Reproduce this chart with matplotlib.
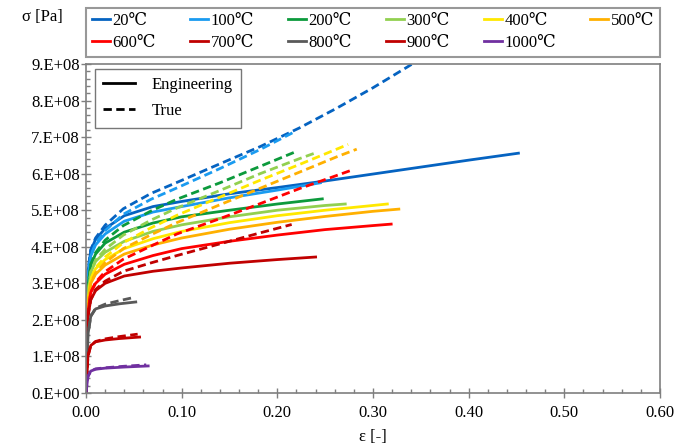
import matplotlib
matplotlib.use("Agg")
import matplotlib.pyplot as plt
from matplotlib.lines import Line2D
from matplotlib.ticker import MultipleLocator, FuncFormatter

plt.rcParams['font.family'] = ['Liberation Serif', 'DejaVu Serif']
plt.rcParams['font.size'] = 12

# temperatures and colours
temps = ['20℃', '100℃', '200℃', '300℃', '400℃', '500℃',
         '600℃', '700℃', '800℃', '900℃', '1000℃']
colors = ['#0563c1', '#1a9bf0', '#0c9a3c', '#92d050', '#ffe800', '#ffb000',
          '#ff0000', '#c00000', '#595959', '#c00000', '#7030a0']

# engineering curves (strain [-], stress [1e8 Pa])
eng_eps = [
    [0, 0.002, 0.005, 0.01, 0.02, 0.04, 0.07, 0.1, 0.15, 0.2, 0.25, 0.3, 0.35, 0.4, 0.452],
    [0, 0.002, 0.005, 0.01, 0.02, 0.04, 0.07, 0.1, 0.15, 0.2, 0.245],
    [0, 0.002, 0.005, 0.01, 0.02, 0.04, 0.07, 0.1, 0.15, 0.2, 0.247],
    [0, 0.002, 0.005, 0.01, 0.02, 0.04, 0.07, 0.1, 0.15, 0.2, 0.25, 0.271],
    [0, 0.002, 0.005, 0.01, 0.02, 0.04, 0.07, 0.1, 0.15, 0.2, 0.25, 0.3, 0.315],
    [0, 0.002, 0.005, 0.01, 0.02, 0.04, 0.07, 0.1, 0.15, 0.2, 0.25, 0.3, 0.327],
    [0, 0.002, 0.005, 0.01, 0.02, 0.04, 0.07, 0.1, 0.15, 0.2, 0.25, 0.3, 0.319],
    [0, 0.002, 0.005, 0.01, 0.02, 0.04, 0.07, 0.1, 0.15, 0.2, 0.24],
    [0, 0.002, 0.005, 0.01, 0.02, 0.035, 0.052],
    [0, 0.002, 0.005, 0.01, 0.02, 0.035, 0.056],
    [0, 0.002, 0.005, 0.01, 0.02, 0.04, 0.065],
]
eng_sig = [
    [0, 3.3, 3.9, 4.2, 4.5, 4.85, 5.1, 5.24, 5.45, 5.62, 5.8, 5.99, 6.18, 6.37, 6.56],
    [0, 3.15, 3.75, 4.05, 4.35, 4.7, 4.95, 5.1, 5.34, 5.55, 5.75],
    [0, 2.9, 3.5, 3.8, 4.1, 4.4, 4.65, 4.82, 5.0, 5.17, 5.31],
    [0, 2.7, 3.3, 3.6, 3.85, 4.15, 4.42, 4.6, 4.82, 5.0, 5.13, 5.17],
    [0, 2.5, 3.1, 3.4, 3.65, 3.95, 4.22, 4.42, 4.66, 4.85, 5.0, 5.13, 5.17],
    [0, 2.4, 3.0, 3.25, 3.5, 3.8, 4.05, 4.24, 4.48, 4.67, 4.83, 4.97, 5.03],
    [0, 2.2, 2.75, 3.0, 3.25, 3.52, 3.76, 3.95, 4.15, 4.32, 4.47, 4.58, 4.62],
    [0, 2.1, 2.55, 2.8, 3.0, 3.2, 3.33, 3.42, 3.55, 3.65, 3.72],
    [0, 1.6, 2.1, 2.3, 2.38, 2.44, 2.49],
    [0, 1.0, 1.3, 1.4, 1.45, 1.49, 1.53],
    [0, 0.45, 0.6, 0.65, 0.68, 0.71, 0.74],
]

# true curves (strain [-], stress [1e8 Pa])
true_eps = [
    [0, 0.002, 0.005, 0.01, 0.02, 0.039, 0.068, 0.095, 0.14, 0.182, 0.223, 0.262, 0.3, 0.336, 0.373],
    [0, 0.002, 0.005, 0.01, 0.02, 0.039, 0.068, 0.095, 0.14, 0.182, 0.219],
    [0, 0.002, 0.005, 0.01, 0.02, 0.039, 0.068, 0.095, 0.14, 0.182, 0.221],
    [0, 0.002, 0.005, 0.01, 0.02, 0.039, 0.068, 0.095, 0.14, 0.182, 0.223, 0.24],
    [0, 0.002, 0.005, 0.01, 0.02, 0.039, 0.068, 0.095, 0.14, 0.182, 0.223, 0.262, 0.274],
    [0, 0.002, 0.005, 0.01, 0.02, 0.039, 0.068, 0.095, 0.14, 0.182, 0.223, 0.262, 0.283],
    [0, 0.002, 0.005, 0.01, 0.02, 0.039, 0.068, 0.095, 0.14, 0.182, 0.223, 0.262, 0.277],
    [0, 0.002, 0.005, 0.01, 0.02, 0.039, 0.068, 0.095, 0.14, 0.182, 0.215],
    [0, 0.002, 0.005, 0.01, 0.02, 0.034, 0.051],
    [0, 0.002, 0.005, 0.01, 0.02, 0.034, 0.054],
    [0, 0.002, 0.005, 0.01, 0.02, 0.039, 0.063],
]
true_sig = [
    [0, 3.31, 3.92, 4.24, 4.59, 5.04, 5.46, 5.76, 6.27, 6.74, 7.25, 7.79, 8.35, 8.92, 9.52],
    [0, 3.16, 3.77, 4.09, 4.44, 4.89, 5.3, 5.61, 6.14, 6.66, 7.16],
    [0, 2.91, 3.52, 3.84, 4.18, 4.58, 4.98, 5.3, 5.75, 6.2, 6.62],
    [0, 2.71, 3.32, 3.64, 3.93, 4.32, 4.73, 5.06, 5.54, 6.0, 6.41, 6.57],
    [0, 2.51, 3.12, 3.43, 3.72, 4.11, 4.52, 4.86, 5.36, 5.82, 6.25, 6.67, 6.8],
    [0, 2.4, 3.02, 3.28, 3.57, 3.95, 4.33, 4.66, 5.15, 5.6, 6.04, 6.46, 6.67],
    [0, 2.2, 2.76, 3.03, 3.32, 3.66, 4.02, 4.35, 4.77, 5.18, 5.59, 5.95, 6.09],
    [0, 2.1, 2.56, 2.83, 3.06, 3.33, 3.56, 3.76, 4.08, 4.38, 4.61],
    [0, 1.6, 2.1, 2.32, 2.43, 2.52, 2.62],
    [0, 1.0, 1.3, 1.41, 1.48, 1.54, 1.61],
    [0, 0.45, 0.6, 0.66, 0.69, 0.73, 0.77],
]

fig = plt.figure(figsize=(6.86, 4.47), dpi=100)
ax = fig.add_axes([86 / 686, 1 - 393 / 447, (660 - 86) / 686, (393 - 64) / 447])

handles = []
for i in range(len(temps)):
    c = colors[i]
    ax.plot(true_eps[i], [s * 1e8 for s in true_sig[i]], color=c, lw=2, ls=(0, (3, 1.6)))
    h, = ax.plot(eng_eps[i], [s * 1e8 for s in eng_sig[i]], color=c, lw=2, label=temps[i])
    handles.append(h)

ax.set_xlim(0, 0.6)
ax.set_ylim(0, 9e8)
ax.xaxis.set_major_locator(MultipleLocator(0.1))
ax.xaxis.set_minor_locator(MultipleLocator(0.02))
ax.yaxis.set_major_locator(MultipleLocator(1e8))
ax.yaxis.set_minor_locator(MultipleLocator(0.2e8))
ax.xaxis.set_major_formatter(FuncFormatter(lambda v, p: f"{v:.2f}"))
ax.yaxis.set_major_formatter(FuncFormatter(lambda v, p: "0.E+00" if abs(v) < 1 else f"{v / 1e8:.0f}.E+08"))

for s in ax.spines.values():
    s.set_color('#7f7f7f')
    s.set_linewidth(1.2)
ax.tick_params(which='major', direction='inout', length=7, color='#7f7f7f', width=1, labelsize=12)
ax.tick_params(which='minor', direction='in', length=3, color='#7f7f7f', width=1)
ax.tick_params(axis='x', pad=5)
ax.tick_params(axis='y', pad=1)

ax.set_xlabel('ε [-]', fontsize=12, labelpad=6)
fig.text(42 / 686, 1 - 17 / 447, 'σ [Pa]', ha='center', va='center', fontsize=12)

# temperature legend above the plot, filled row by row
order = [0, 6, 1, 7, 2, 8, 3, 9, 4, 10, 5]
leg_t = fig.legend(handles=[handles[k] for k in order], loc='lower left', ncol=6, mode='expand',
                   bbox_to_anchor=(86 / 686, 1 - 57 / 447, (660 - 86) / 686, 52 / 447),
                   fontsize=12, handlelength=1.1, handletextpad=0.15, columnspacing=0.5,
                   labelspacing=0.35, borderaxespad=0, fancybox=False, frameon=True,
                   borderpad=0.35)
leg_t.get_frame().set_edgecolor('#7f7f7f')
leg_t.get_frame().set_linewidth(1.5)

# line type legend inside
styles = [Line2D([], [], color='black', lw=2, label='Engineering'),
          Line2D([], [], color='black', lw=2, ls=(0, (3, 1.6)), label='True')]
leg_s = ax.legend(handles=styles, loc='upper left', bbox_to_anchor=(0.015, 0.985),
                  fontsize=12, handlelength=1.9, handletextpad=1.0, fancybox=False,
                  borderpad=0.5, labelspacing=0.6, borderaxespad=0)
leg_s.get_frame().set_edgecolor('#555555')
leg_s.get_frame().set_linewidth(1.0)

fig.savefig('out.png', dpi=100)
